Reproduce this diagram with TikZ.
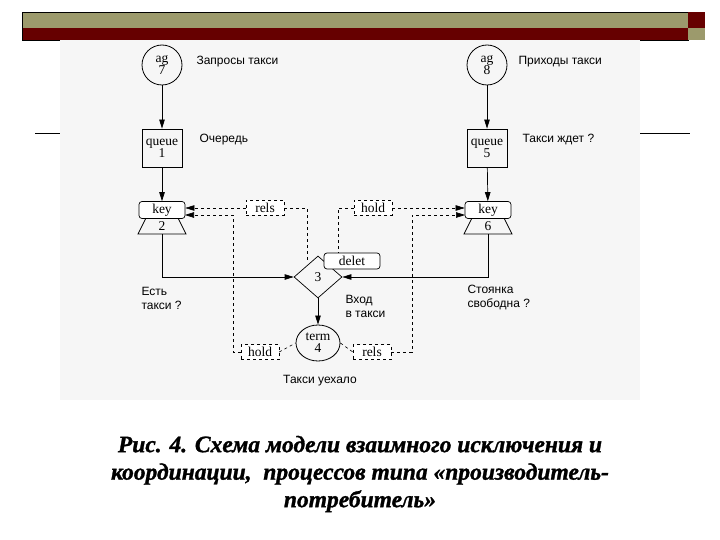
\documentclass[tikz,border=0pt]{standalone}
\usepackage{fontspec}
\setmainfont{Liberation Serif}
\newfontfamily\lsans{Liberation Sans}
\newfontfamily\capfont[FakeBold=1.2]{Liberation Serif}
\usetikzlibrary{shapes.geometric,arrows.meta}
\definecolor{olivebar}{HTML}{9C9A6C}
\definecolor{darkred}{HTML}{660000}
\begin{document}
\begin{tikzpicture}[x=1pt,y=-1pt,
  lbl/.style={font=\lsans\fontsize{12}{14}\selectfont,align=left,anchor=west},
  ntext/.style={font=\fontsize{13.5}{12}\selectfont,align=center},
  circ/.style={draw,circle,minimum size=40,inner sep=0,ntext,line width=0.8pt},
  qbox/.style={draw,minimum width=40,minimum height=38,inner sep=0,ntext,line width=0.8pt},
  keybox/.style={draw,rounded corners=3pt,minimum width=46,minimum height=17,inner sep=0,ntext,fill=white,line width=0.7pt},
  dbox/.style={draw,dashed,minimum width=38,minimum height=15,inner sep=0,ntext,fill=white},
  dl/.style={dashed,line width=0.6pt},
  arr/.style={-{Triangle[length=9pt,width=5.5pt]},line width=0.7pt},
  darr/.style={dl,-{Triangle[length=9pt,width=5.5pt]}}]
\useasboundingbox (0,0) rectangle (720,540);
\fill[white] (0,0) rectangle (720,540);
% header
\fill[olivebar] (22,12) rectangle (688,28);
\fill[darkred] (22,28) rectangle (688,40);
\draw[black,line width=0.4pt] (22,12) rectangle (688,40);
\fill[darkred] (688,12) rectangle (705,28);
\fill[olivebar] (688,28) rectangle (705,40);
% scan area
\fill[gray!7] (60,40) rectangle (640,400);
\draw[line width=0.6pt] (35,133) -- (60,133) (640,133) -- (690,133);
% nodes
\node[circ] (ag7) at (162,65) {ag\\7};
\node[circ] (ag8) at (487,65) {ag\\8};
\node[lbl] (l7) at (193,62) {Запросы такси};
\node[lbl] (l8) at (515,62) {Приходы такси};
\node[qbox] (q1) at (162,148) {queue\\1};
\node[qbox] (q5) at (487,148) {queue\\5};
\node[lbl] (l1) at (196,140) {Очередь};
\node[lbl] (l5) at (519,140) {Такси ждет ?};
% key 2 / 6 with trapezoids
\draw[line width=0.7pt] (146,218) -- (178,218) -- (186,234) -- (138,234) -- cycle;
\draw[line width=0.7pt] (472,218) -- (504,218) -- (512,234) -- (464,234) -- cycle;
\node[ntext] (t2) at (162,226) {2};
\node[ntext] (t6) at (488,226) {6};
\coordinate (b2) at (162,234);
\coordinate (b6) at (488,234);
\node[keybox] (k2) at (162,210) {key};
\node[keybox] (k6) at (488,210) {key};
% diamond
\node[diamond,draw,minimum width=48,minimum height=42,inner sep=0,ntext,line width=0.7pt] (d3) at (318,277) {3};
\node[keybox,minimum width=56,minimum height=16] (del) at (352,261) {delet};
\node[draw,ellipse,minimum width=44,minimum height=36,inner sep=0,ntext,line width=0.8pt] (t4) at (318,343) {term\\4};
\node[dbox] (rels1) at (265,208) {rels};
\node[dbox] (hold1) at (373,208) {hold};
\node[dbox] (hold2) at (260,352) {hold};
\node[dbox] (rels2) at (372,352) {rels};
\node[lbl] (e1) at (138,298) {Есть\\такси ?};
\node[lbl] (e3) at (342,306) {Вход\\в такси};
\node[lbl] (e6) at (464,298) {Стоянка\\свободна ?};
\node[lbl,anchor=center] (e4) at (320,381) {Такси уехало};
\coordinate (c1) at (307,208);
\coordinate (c2) at (307,263);
\coordinate (c3) at (338,208);
\coordinate (c4) at (338,253);
% solid connectors
\draw[arr] (ag7) -- (q1);
\draw[arr] (q1) -- (k2);
\draw[arr] (ag8) -- (q5);
\draw[arr] (q5) -- (k6);
\draw[arr] (b2) -- (162,277) -- (d3.west);
\draw[arr] (b6) -- (488,277) -- (d3.east);
\draw[arr] (d3.south) -- (t4.north);
% dashed
\draw[darr] (rels1.west) -- (k2.east |- rels1.west);
\draw[dl] (rels1.east) -- (c1) -- (c2);
\draw[darr] (hold1.east) -- (k6.west |- hold1.east);
\draw[dl] (hold1.west) -- (c3) -- (c4);
\draw[darr] (hold2.west) -- (233,352) -- (233,215) -- (185,215);
\draw[darr] (rels2.east) -- (412,352) -- (412,215) -- (465,215);
\draw[dl] (hold2.east) -- (t4.west);
\draw[dl] (t4.east) -- (rels2.west);
% caption
\node[font=\capfont\bfseries\itshape\fontsize{23.5}{27.5}\selectfont,align=center] (cap) at (360,474)
 {Рис. 4. Схема модели взаимного исключения и\\координации,\ \ процессов типа «производитель-\\потребитель»};
\end{tikzpicture}
\end{document}
